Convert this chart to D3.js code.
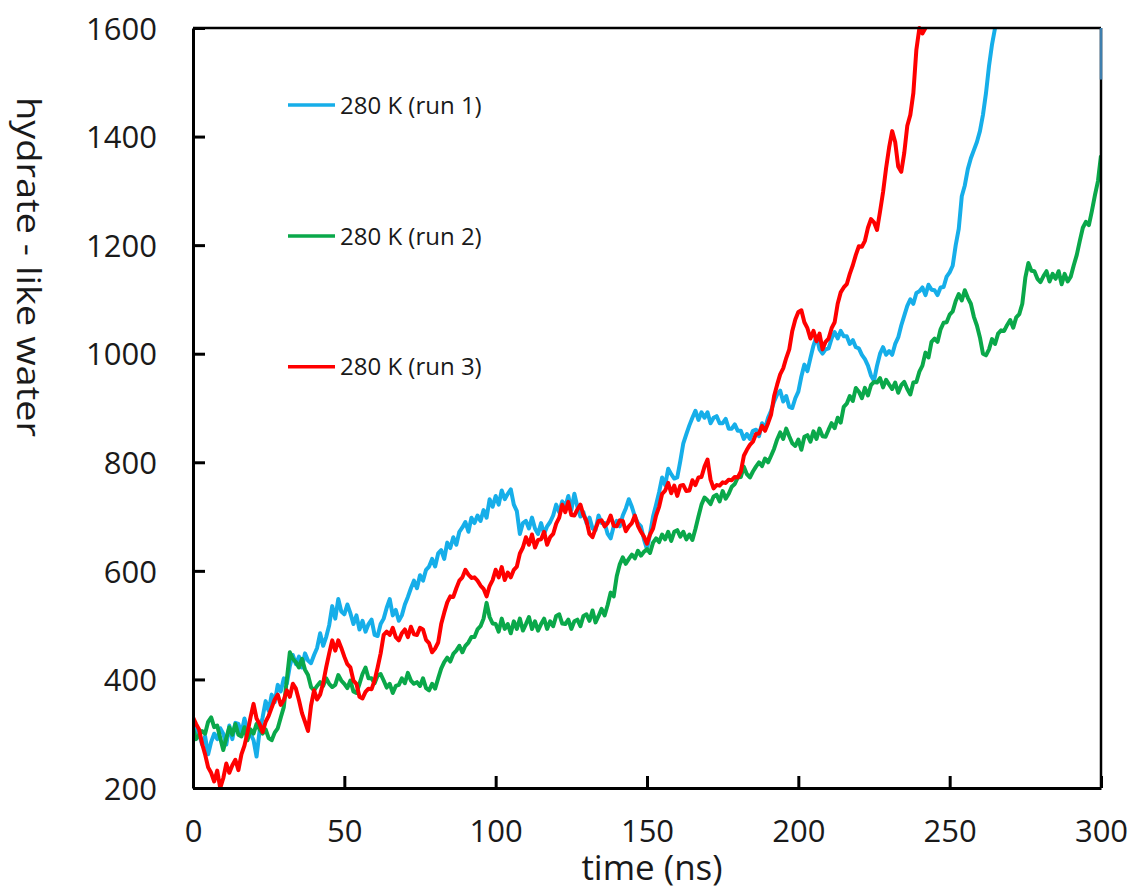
<!DOCTYPE html>
<html>
<head>
<meta charset="utf-8">
<script src="https://cdn.jsdelivr.net/npm/d3@7/dist/d3.min.js"></script>
<style>
  html, body { margin: 0; padding: 0; background: #fff; }
  svg { display: block; }
  text { font-family: "Open Sans", "Noto Sans", sans-serif; fill: #1a1a1a; }
</style>
</head>
<body>
<svg id="chart" width="1136" height="892"></svg>
<script>
// Hydrate-like water count vs. simulation time, three runs at 280 K (1 ns sampling)
const seriesNames = ["280 K (run 1)", "280 K (run 2)", "280 K (run 3)"];
const seriesColors = ["#16aee9", "#0aa84a", "#ff0000"];

const run1 = [
  325, 305, 300, 280, 295, 262, 285, 300, 290, 310,
  300, 280, 315, 290, 320, 318, 300, 328, 305, 300,
  288, 258, 305, 330, 360, 342, 372, 358, 390, 378,
  402, 392, 425, 445, 428, 442, 422, 448, 435, 430,
  445, 458, 485, 462, 478, 500, 535, 512, 548, 525,
  520, 538, 522, 502, 518, 492, 508, 488, 502, 510,
  482, 480, 502, 512, 532, 548, 518, 528, 508, 518,
  538, 552, 568, 582, 568, 592, 582, 602, 608, 622,
  608, 632, 638, 622, 652, 642, 662, 648, 672, 680,
  690, 672, 698, 688, 702, 692, 712, 698, 732, 718,
  738, 722, 748, 732, 742, 750, 722, 710, 668, 688,
  692, 678, 698, 678, 668, 688, 668, 682, 690, 702,
  722, 708, 728, 718, 738, 712, 742, 718, 700, 708,
  688, 698, 678, 675, 702, 688, 688, 668, 660, 682,
  692, 682, 702, 715, 732, 718, 700, 688, 682, 658,
  640, 668, 700, 722, 745, 772, 758, 788, 778, 770,
  772, 802, 835, 852, 868, 882, 895, 878, 892, 882,
  892, 872, 882, 885, 872, 872, 880, 862, 862, 870,
  858, 858, 843, 852, 843, 858, 860, 848, 872, 863,
  882, 895, 912, 925, 932, 912, 922, 902, 900, 918,
  930, 958, 980, 968, 992, 1015, 1032, 1008, 1000, 1008,
  1010, 1028, 1040, 1028, 1042, 1032, 1032, 1018, 1025, 1012,
  1010, 998, 990, 978, 960, 950, 978, 1000, 1012, 998,
  1005, 998, 1018, 1030, 1052, 1070, 1088, 1100, 1092, 1112,
  1115, 1122, 1108, 1127, 1118, 1117, 1108, 1122, 1123, 1142,
  1150, 1162, 1200, 1230, 1290, 1310, 1340, 1360, 1375, 1390,
  1410, 1440, 1480, 1530, 1570, 1600
];

const run2 = [
  310, 290, 298, 305, 300, 322, 330, 312, 315, 292,
  270, 292, 312, 298, 318, 298, 295, 312, 288, 308,
  300, 318, 308, 300, 308, 292, 288, 302, 310, 330,
  349, 400, 450, 438, 432, 422, 438, 418, 408, 386,
  380, 388, 395, 388, 402, 392, 386, 390, 408, 398,
  392, 384, 398, 378, 375, 392, 410, 422, 402, 402,
  393, 407, 410, 398, 385, 392, 375, 388, 390, 402,
  393, 412, 398, 392, 395, 388, 402, 384, 380, 392,
  383, 402, 420, 432, 440, 433, 447, 453, 462, 450,
  462, 468, 478, 478, 492, 498, 512, 541, 515, 503,
  502, 488, 512, 493, 502, 485, 507, 493, 512, 490,
  502, 515, 493, 507, 490, 502, 512, 493, 507, 498,
  517, 520, 503, 502, 510, 493, 507, 510, 498, 517,
  520, 508, 527, 505, 517, 530, 518, 537, 560, 553,
  590, 612, 625, 613, 622, 630, 623, 637, 628, 635,
  640, 633, 652, 660, 653, 667, 658, 672, 655, 672,
  675, 663, 672, 658, 667, 657, 677, 700, 722, 735,
  730, 723, 737, 740, 728, 747, 733, 742, 755, 760,
  772, 773, 792, 778, 772, 783, 792, 800, 793, 807,
  800, 812, 825, 842, 855, 843, 862, 848, 835, 830,
  842, 823, 847, 850, 838, 857, 843, 862, 848, 847,
  860, 872, 863, 882, 873, 902, 908, 922, 913, 937,
  930, 918, 937, 923, 942, 948, 947, 955, 938, 952,
  943, 935, 947, 928, 942, 948, 935, 925, 947, 948,
  967, 978, 1002, 993, 1022, 1028, 1022, 1045, 1057, 1058,
  1072, 1078, 1097, 1110, 1098, 1117, 1103, 1092, 1068, 1052,
  1030, 1000, 997, 1008, 1027, 1018, 1037, 1043, 1042, 1053,
  1062, 1048, 1067, 1073, 1092, 1140, 1167, 1153, 1152, 1138,
  1132, 1143, 1152, 1133, 1147, 1138, 1152, 1128, 1147, 1133,
  1142, 1163, 1182, 1208, 1232, 1243, 1237, 1263, 1292, 1318,
  1365
];

const run3 = [
  330, 318, 308, 282, 262, 238, 228, 212, 232, 200,
  218, 245, 228, 242, 252, 233, 262, 278, 302, 330,
  355, 328, 318, 303, 322, 333, 348, 363, 372, 353,
  362, 380, 368, 392, 383, 362, 338, 322, 305, 352,
  380, 363, 372, 393, 422, 448, 472, 453, 472, 458,
  442, 428, 422, 398, 392, 368, 365, 377, 383, 382,
  398, 422, 448, 482, 488, 482, 495, 478, 472, 485,
  492, 478, 497, 483, 482, 495, 492, 473, 467, 450,
  457, 468, 502, 523, 542, 553, 552, 568, 582, 588,
  602, 593, 587, 588, 582, 573, 567, 553, 572, 583,
  602, 588, 607, 583, 597, 588, 602, 608, 632, 643,
  662, 648, 667, 643, 657, 658, 672, 648, 662, 668,
  687, 698, 722, 708, 727, 703, 702, 713, 722, 703,
  692, 668, 662, 678, 692, 693, 682, 688, 702, 683,
  682, 693, 692, 673, 682, 688, 702, 683, 672, 663,
  650, 667, 678, 702, 718, 742, 748, 762, 743, 757,
  738, 757, 758, 747, 748, 767, 758, 772, 773, 792,
  805, 768, 752, 758, 757, 763, 762, 768, 767, 773,
  772, 783, 812, 823, 832, 838, 852, 853, 867, 858,
  872, 888, 922, 943, 962, 973, 992, 1008, 1042, 1063,
  1077, 1080, 1058, 1047, 1028, 1042, 1023, 1037, 1008, 1022,
  1028, 1047, 1058, 1092, 1113, 1122, 1128, 1147, 1163, 1182,
  1198, 1197, 1208, 1232, 1248, 1242, 1228, 1262, 1298, 1342,
  1380, 1410, 1390, 1345, 1335, 1370, 1420, 1440, 1480, 1560,
  1600, 1590, 1600
];

const xTicks = [0, 50, 100, 150, 200, 250, 300];
const yTicks = [200, 400, 600, 800, 1000, 1200, 1400, 1600];
const xLabel = "time (ns)";
const yLabel = "hydrate - like water";

const svg = d3.select("#chart");
const plot = { left: 193, right: 1101, top: 28, bottom: 788 };

const x = d3.scaleLinear().domain([0, 300]).range([plot.left, plot.right]);
const y = d3.scaleLinear().domain([200, 1600]).range([plot.bottom, plot.top]);

// Clip the traces to the plotting frame
svg.append("defs").append("clipPath").attr("id", "plotClip")
  .append("rect")
  .attr("x", plot.left).attr("y", plot.top - 2)
  .attr("width", plot.right - plot.left).attr("height", plot.bottom - plot.top + 2);

const line = d3.line().x((d, i) => x(i)).y(d => y(d));

const traces = svg.append("g").attr("clip-path", "url(#plotClip)");
[run1, run2, run3].forEach((vals, k) => {
  traces.append("path")
    .datum(vals)
    .attr("d", line)
    .attr("fill", "none")
    .attr("stroke", seriesColors[k])
    .attr("stroke-width", 4)
    .attr("stroke-linejoin", "round");
});

// Frame: top and right edges
svg.append("line")
  .attr("x1", x(0)).attr("x2", x(300)).attr("y1", y(1600)).attr("y2", y(1600))
  .attr("stroke", "#000").attr("stroke-width", 2.5);
svg.append("line")
  .attr("x1", x(300)).attr("x2", x(300)).attr("y1", y(1600)).attr("y2", y(200))
  .attr("stroke", "#000").attr("stroke-width", 2.5);
svg.append("line")
  .attr("x1", x(300)).attr("x2", x(300)).attr("y1", y(1600)).attr("y2", y(1505))
  .attr("stroke", "#3f7fae").attr("stroke-width", 2.5);

// Axes with inward ticks
const yAxis = d3.axisLeft(y).tickValues(yTicks).tickSizeInner(-12).tickSizeOuter(0).tickPadding(36)
  .tickFormat(d3.format("d"));
const xAxis = d3.axisBottom(x).tickValues(xTicks).tickSizeInner(-12).tickSizeOuter(0).tickPadding(32)
  .tickFormat(d3.format("d"));

const gy = svg.append("g").attr("transform", `translate(${plot.left},0)`).call(yAxis);
const gx = svg.append("g").attr("transform", `translate(0,${plot.bottom})`).call(xAxis);

[gx, gy].forEach(g => {
  g.select(".domain").attr("stroke", "#000").attr("stroke-width", 3);
  g.selectAll(".tick line").attr("stroke", "#000").attr("stroke-width", 3);
  g.selectAll(".tick text")
    .attr("fill", "#1a1a1a")
    .style("font-family", '"Open Sans", sans-serif')
    .style("font-size", "31px");
});
gy.selectAll(".tick text").attr("dy", "0.36em");
gx.selectAll(".tick text").attr("dy", "0.71em");

// Axis titles
svg.append("text")
  .attr("x", 652).attr("y", 880)
  .attr("text-anchor", "middle")
  .style("font-size", "35px")
  .text(xLabel);

svg.append("text")
  .attr("transform", "translate(17,267) rotate(90)")
  .attr("text-anchor", "middle")
  .attr("textLength", 340)
  .attr("lengthAdjust", "spacingAndGlyphs")
  .style("font-size", "32px")
  .text(yLabel);

// Legend
const legendY = [y(1458), y(1217), y(976)];
const legend = svg.append("g");
seriesNames.forEach((name, k) => {
  legend.append("line")
    .attr("x1", 288).attr("x2", 335)
    .attr("y1", legendY[k]).attr("y2", legendY[k])
    .attr("stroke", seriesColors[k]).attr("stroke-width", 3.5);
  legend.append("text")
    .attr("x", 340).attr("y", legendY[k])
    .attr("dy", "0.36em")
    .style("font-size", "24px")
    .text(name);
});
</script>
</body>
</html>
